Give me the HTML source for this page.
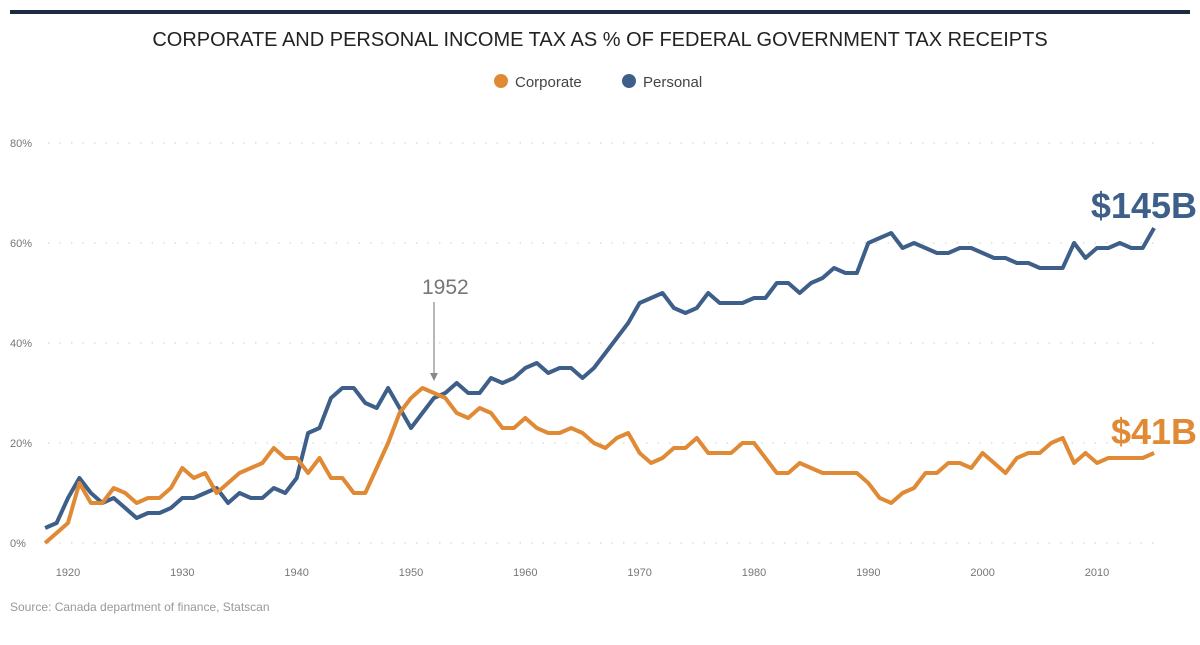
<!DOCTYPE html>
<html><head><meta charset="utf-8"><style>
body{margin:0;background:#fff;font-family:"Liberation Sans",sans-serif;}
svg{display:block}
</style></head><body>
<svg width="1200" height="645">
<rect x="10" y="10" width="1180" height="4" fill="#1c2a44"/>
<text x="600" y="46" text-anchor="middle" font-size="20" fill="#222">CORPORATE AND PERSONAL INCOME TAX AS % OF FEDERAL GOVERNMENT TAX RECEIPTS</text>
<g>
<circle cx="501" cy="81" r="7" fill="#e08a35"/>
<text x="515" y="87" font-size="15" fill="#444">Corporate</text>
<circle cx="629" cy="81" r="7" fill="#3e5f8a"/>
<text x="643" y="87" font-size="15" fill="#444">Personal</text>
</g>
<g id="grid"></g><g id="lines"></g>
<text x="422" y="294" font-size="21" fill="#777">1952</text>
<line x1="434" y1="302" x2="434" y2="378" stroke="#888" stroke-width="1.2"/>
<path d="M430,373 L434,381 L438,373 Z" fill="#888"/>
<text x="1197" y="218" text-anchor="end" font-size="36" font-weight="bold" fill="#3e5f8a">$145B</text>
<text x="1197" y="444" text-anchor="end" font-size="36" font-weight="bold" fill="#e08a35">$41B</text>
<text x="10" y="611" font-size="12" fill="#999">Source: Canada department of finance, Statscan</text>
</svg>
<script>
const startYear=1918;
const personal=[3,4,9,13,10,8,9,7,5,6,6,7,9,9,10,11,8,10,9,9,11,10,13,22,23,29,31,31,28,27,31,27,23,26,29,30,32,30,30,33,32,33,35,36,34,35,35,33,35,38,41,44,48,49,50,47,46,47,50,48,48,48,49,49,52,52,50,52,53,55,54,54,60,61,62,59,60,59,58,58,59,59,58,57,57,56,56,55,55,55,60,57,59,59,60,59,59,63];
const corporate=[0,2,4,12,8,8,11,10,8,9,9,11,15,13,14,10,12,14,15,16,19,17,17,14,17,13,13,10,10,15,20,26,29,31,30,29,26,25,27,26,23,23,25,23,22,22,23,22,20,19,21,22,18,16,17,19,19,21,18,18,18,20,20,17,14,14,16,15,14,14,14,14,12,9,8,10,11,14,14,16,16,15,18,16,14,17,18,18,20,21,16,18,16,17,17,17,17,18];
const yTicks=[0,20,40,60,80];
const yTickLabels=["0%","20%","40%","60%","80%"];
const xTicks=[1920,1930,1940,1950,1960,1970,1980,1990,2000,2010];
const NS="http://www.w3.org/2000/svg";
const X=y=>68+(y-1920)*11.433;
const Y=v=>543-v*5;
const grid=document.getElementById('grid'),lines=document.getElementById('lines');
yTicks.forEach((t,i)=>{
 const l=document.createElementNS(NS,'line');
 l.setAttribute('x1',48);l.setAttribute('x2',1155);l.setAttribute('y1',Y(t));l.setAttribute('y2',Y(t));
 l.setAttribute('stroke','#ccc');l.setAttribute('stroke-dasharray','1.5 10');
 
 
 grid.appendChild(l);
 const tx=document.createElementNS(NS,'text');
 tx.setAttribute('x',10);tx.setAttribute('y',Y(t)+4);tx.setAttribute('font-size','11');tx.setAttribute('fill','#777');
 tx.textContent=yTickLabels[i];
 
 
 grid.appendChild(tx);
});
xTicks.forEach(t=>{
 const tx=document.createElementNS(NS,'text');
 tx.setAttribute('x',X(t));tx.setAttribute('y',576);tx.setAttribute('font-size','11');tx.setAttribute('fill','#777');tx.setAttribute('text-anchor','middle');
 tx.textContent=t;
 
 
 grid.appendChild(tx);
});
function draw(arr,color,name){
 const p=document.createElementNS(NS,'polyline');
 p.setAttribute('points',arr.map((v,i)=>X(startYear+i).toFixed(1)+','+Y(v)).join(' '));
 p.setAttribute('fill','none');p.setAttribute('stroke',color);p.setAttribute('stroke-width','4');p.setAttribute('stroke-linejoin','round');
 
 
 lines.appendChild(p);
}
draw(personal,'#3e5f8a','personal-line');
draw(corporate,'#e08a35','corporate-line');
</script>
</body></html>
